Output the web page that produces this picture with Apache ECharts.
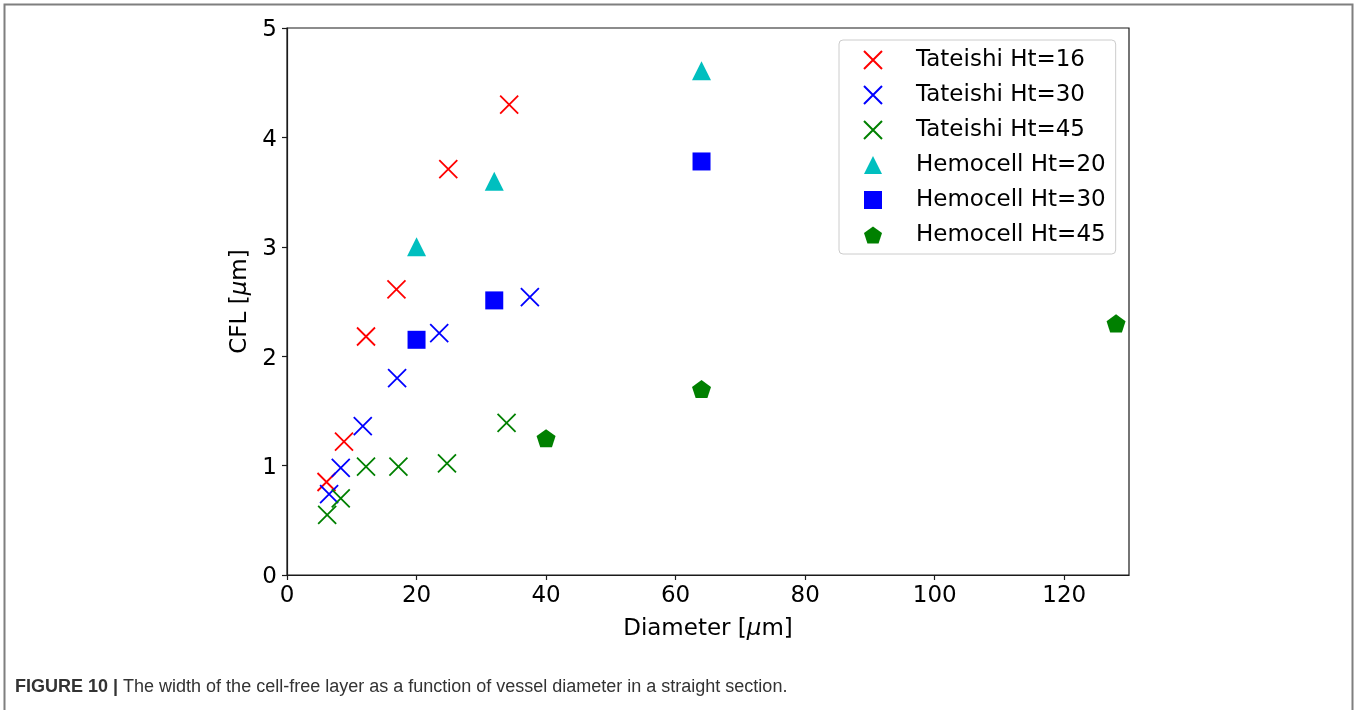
<!DOCTYPE html>
<html>
<head>
<meta charset="utf-8">
<title>Cell-free layer width vs vessel diameter</title>
<script src="https://cdn.jsdelivr.net/npm/echarts@6/dist/echarts.min.js"></script>
<style>
  html, body { margin: 0; padding: 0; background: #fff; }
  #chart { width: 1354px; height: 710px; }
</style>
</head>
<body>
<div id="chart"></div>
<script>
// [diameter (µm), CFL (µm)] pairs per data set
const tateishi16 = [[6.1, 0.85], [8.8, 1.22], [12.2, 2.18], [16.9, 2.61], [24.9, 3.71], [34.3, 4.30]];
const tateishi30 = [[6.5, 0.74], [8.3, 0.98], [11.7, 1.36], [17.0, 1.80], [23.5, 2.21], [37.5, 2.54]];
const tateishi45 = [[6.2, 0.55], [8.3, 0.70], [12.2, 0.99], [17.2, 0.99], [24.7, 1.02], [33.9, 1.39]];
const hemocell20 = [[20, 3.0], [32, 3.6], [64, 4.61]];
const hemocell30 = [[20, 2.15], [32, 2.51], [64, 3.78]];
const hemocell45 = [[40, 1.25], [64, 1.70], [128, 2.30]];

const xTicks = [0, 20, 40, 60, 80, 100, 120];

const seriesNames = ['Tateishi Ht=16', 'Tateishi Ht=30', 'Tateishi Ht=45',
                     'Hemocell Ht=20', 'Hemocell Ht=30', 'Hemocell Ht=45'];

const FONT = 'DejaVu Sans';
const FS = 23;
const CROSS = 'path://M0,0L10,10M10,0L0,10';
const PENTAGON = 'path://M0,-1L0.951,-0.309L0.588,0.809L-0.588,0.809L-0.951,-0.309Z';

function crossSeries(name, data, color) {
  return {
    name: name, type: 'scatter', data: data,
    symbol: CROSS, symbolSize: 18,
    itemStyle: { color: 'transparent', borderColor: color, borderWidth: 1.8, opacity: 1 },
    emphasis: { disabled: true }
  };
}
function filledSeries(name, data, symbol, size, color) {
  return {
    name: name, type: 'scatter', data: data,
    symbol: symbol, symbolSize: size, symbolKeepAspect: true,
    itemStyle: { color: color, borderWidth: 0, opacity: 1 },
    emphasis: { disabled: true }
  };
}

const muRich = { mu: { fontStyle: 'italic', fontSize: FS, fontFamily: FONT, color: '#000' } };

const chart = echarts.init(document.getElementById('chart'), null, { renderer: 'canvas' });
chart.setOption({
  animation: false,
  backgroundColor: '#fff',
  textStyle: { fontFamily: FONT },
  grid: {
    left: 287, top: 28, width: 842, height: 547,
    show: true, borderColor: '#1a1a1a', borderWidth: 1.2, backgroundColor: 'transparent'
  },
  xAxis: {
    type: 'value', min: 0, max: 130,
    name: 'Diameter [{mu|μ}m]', nameLocation: 'middle', nameGap: 43,
    nameTextStyle: { color: '#000', fontSize: FS, fontFamily: FONT, rich: muRich },
    axisLine: { show: true, onZero: false, lineStyle: { color: '#1a1a1a', width: 1.2 } },
    axisTick: { show: true, inside: false, length: 5, customValues: xTicks,
                lineStyle: { color: '#1a1a1a', width: 1.2 } },
    axisLabel: { customValues: xTicks, color: '#000', fontSize: FS, fontFamily: FONT, margin: 10 },
    splitLine: { show: false }
  },
  yAxis: {
    type: 'value', min: 0, max: 5, interval: 1,
    name: 'CFL [{mu|μ}m]', nameLocation: 'middle', nameGap: 34, nameRotate: 90,
    nameTextStyle: { color: '#000', fontSize: FS, fontFamily: FONT, rich: muRich },
    axisLine: { show: true, onZero: false, lineStyle: { color: '#1a1a1a', width: 1.2 } },
    axisTick: { show: true, inside: false, length: 5, lineStyle: { color: '#1a1a1a', width: 1.2 } },
    axisLabel: {
      color: '#000', fontSize: FS, fontFamily: FONT, margin: 10,
      formatter: '{v|{value}}',
      rich: { v: { color: '#000', fontSize: FS, fontFamily: FONT, padding: [5, 0, 0, 0] } }
    },
    splitLine: { show: false }
  },
  legend: {
    data: seriesNames,
    orient: 'vertical',
    left: 839, top: 40,
    padding: [8, 10, 7, 24],
    itemWidth: 18, itemHeight: 18, itemGap: 11,
    selectedMode: false,
    backgroundColor: 'rgba(255,255,255,0.8)',
    borderColor: '#cccccc', borderWidth: 1, borderRadius: 4,
    formatter: (name) => '{gap|}' + name,
    textStyle: {
      color: '#000', fontSize: FS, fontFamily: FONT, lineHeight: 24,
      rich: { gap: { width: 29 } }
    }
  },
  series: [
    crossSeries(seriesNames[0], tateishi16, '#ff0000'),
    crossSeries(seriesNames[1], tateishi30, '#0000ff'),
    crossSeries(seriesNames[2], tateishi45, '#008000'),
    filledSeries(seriesNames[3], hemocell20, 'triangle', 19, '#00bfbf'),
    filledSeries(seriesNames[4], hemocell30, 'rect', 18, '#0000ff'),
    filledSeries(seriesNames[5], hemocell45, PENTAGON, 19, '#008000')
  ],
  graphic: [
    {
      // frame around the figure (open at the bottom)
      type: 'polyline', silent: true,
      shape: { points: [[4.5, 712], [4.5, 4.5], [1352.5, 4.5], [1352.5, 712]] },
      style: { stroke: '#7f7f7f', lineWidth: 2, fill: 'none' }
    },
    {
      type: 'text', left: 15, top: 678, silent: true,
      style: {
        text: '{b|FIGURE 10 |} The width of the cell-free layer as a function of vessel diameter in a straight section.',
        font: '18px "Liberation Sans"', fill: '#333333',
        rich: {
          b: { fontWeight: 'bold', fontSize: 18, fontFamily: 'Liberation Sans', fill: '#333333' }
        }
      }
    }
  ]
});
</script>
</body>
</html>
